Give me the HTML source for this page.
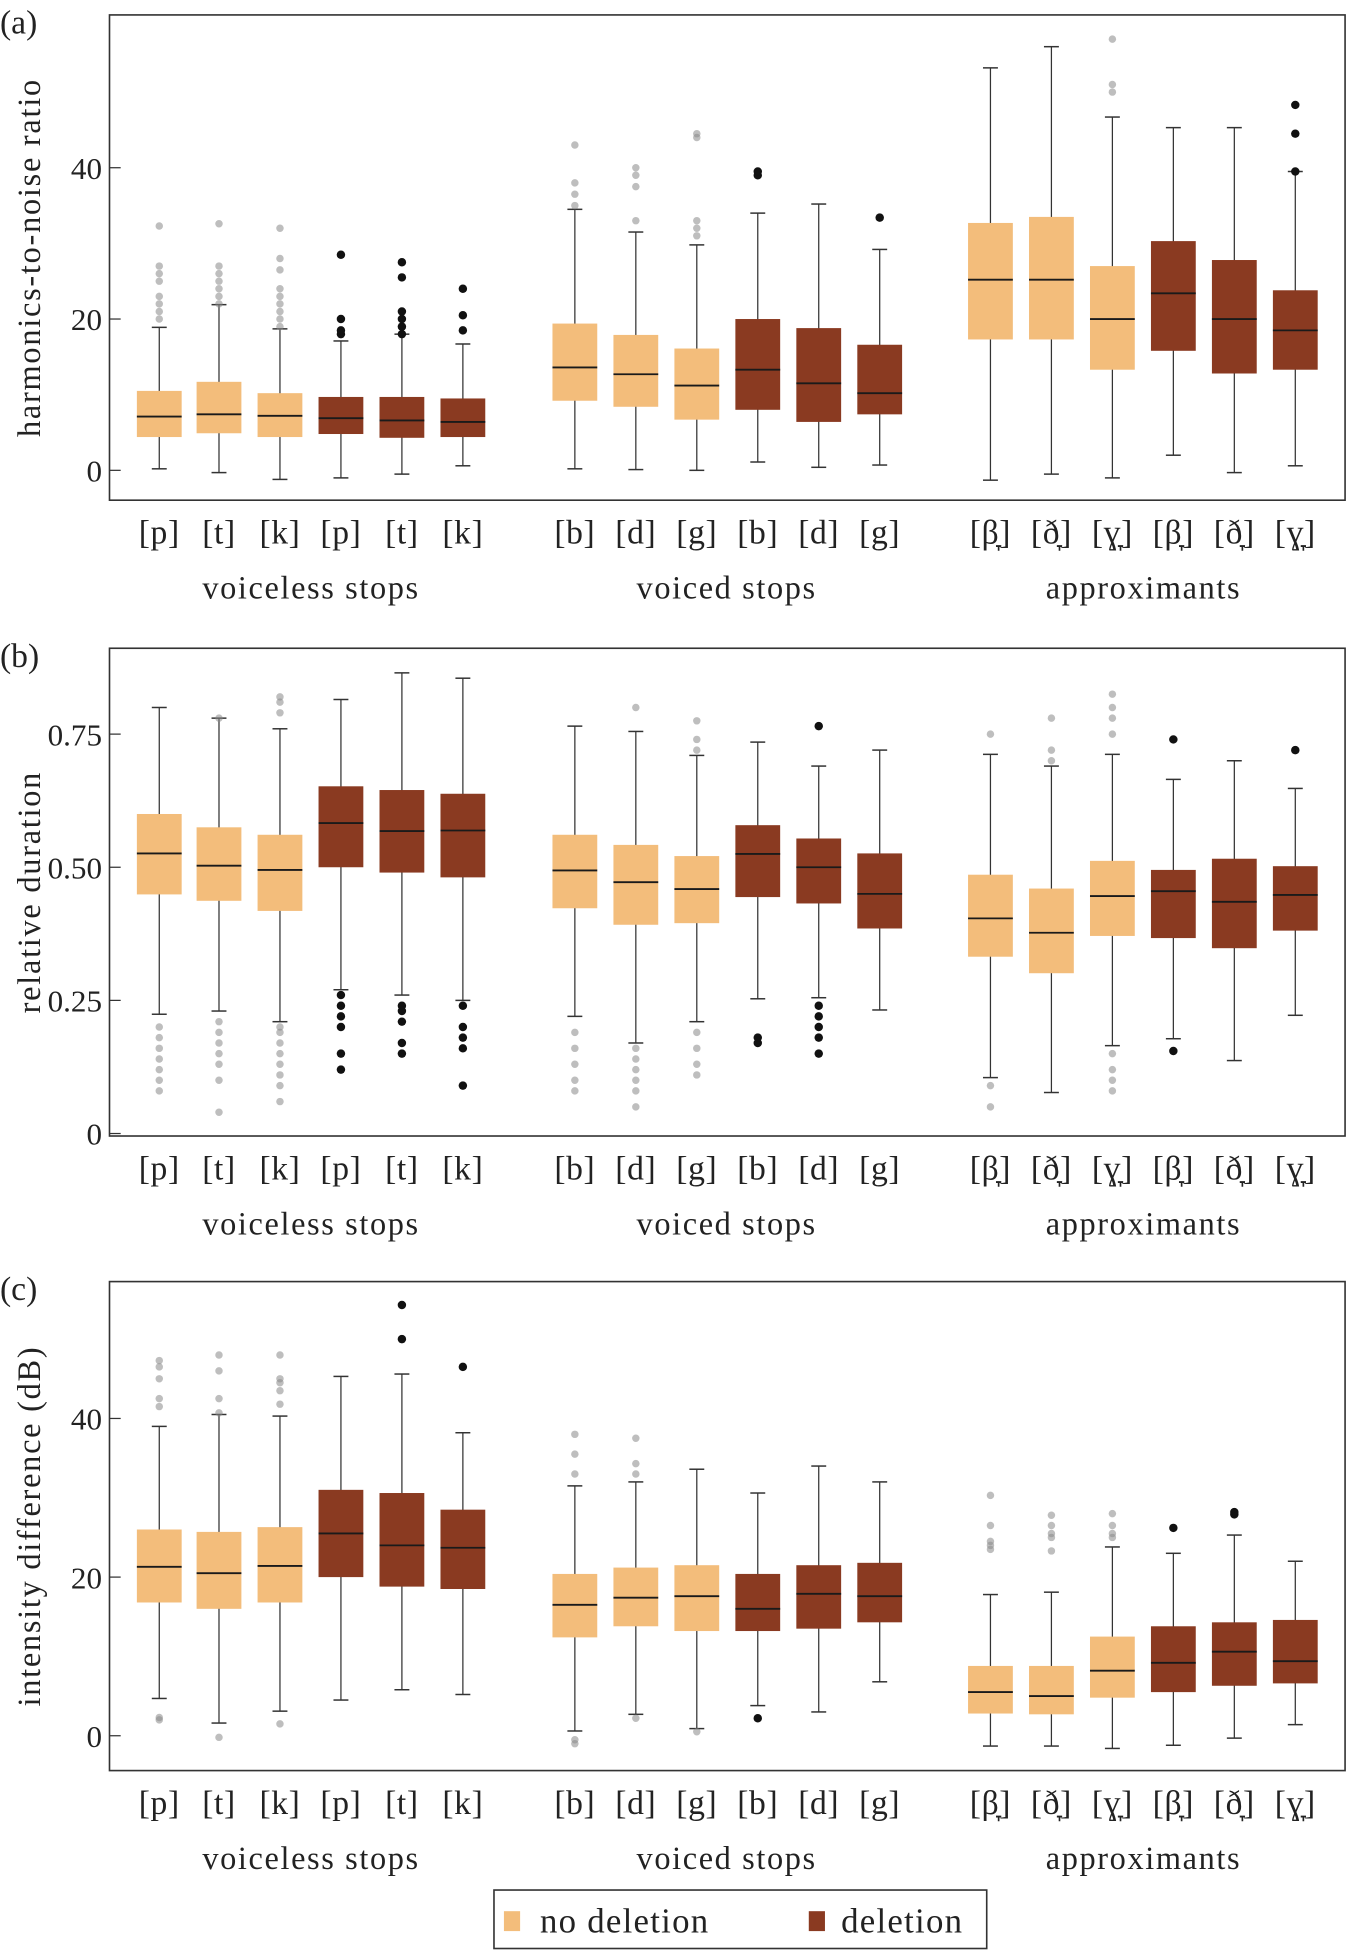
<!DOCTYPE html>
<html><head><meta charset="utf-8">
<style>
html,body{margin:0;padding:0;background:#fff;}
svg{display:block;}
text{font-family:"Liberation Serif",serif;fill:#222;}
</style></head>
<body>
<svg id="chart" width="1360" height="1951" viewBox="0 0 1093 1568" preserveAspectRatio="none" xmlns="http://www.w3.org/2000/svg"></svg>
<script>
const categories = ["[p]","[t]","[k]","[p]","[t]","[k]","[b]","[d]","[g]","[b]","[d]","[g]","[β̞]","[ð̞]","[ɣ̞]","[β̞]","[ð̞]","[ɣ̞]"];
const deletionFlags = [0,0,0,1,1,1,0,0,0,1,1,1,0,0,0,1,1,1];
const groupLabels = ["voiceless stops","voiced stops","approximants"];

// each entry: [whiskerLow, q1, median, q3, whiskerHigh]
const hnrStats = [
 [0.2,4.4,7.1,10.5,18.9],[-0.3,4.9,7.4,11.7,21.9],[-1.2,4.4,7.2,10.2,18.7],
 [-1,4.8,6.9,9.7,17.1],[-0.5,4.3,6.6,9.7,18],[0.6,4.4,6.4,9.5,16.7],
 [0.2,9.2,13.6,19.4,34.5],[0.1,8.4,12.7,17.9,31.5],[0,6.7,11.2,16.1,29.8],
 [1.1,8,13.3,20,34],[0.4,6.4,11.5,18.8,35.2],[0.7,7.4,10.2,16.6,29.2],
 [-1.3,17.3,25.2,32.7,53.2],[-0.5,17.3,25.2,33.5,56],[-1,13.3,20,27,46.7],
 [2,15.8,23.4,30.3,45.3],[-0.3,12.8,20,27.8,45.3],[0.6,13.3,18.5,23.8,39.5]];
const hnrOutliers = [
 [20,21,22,23,25,26,27,32.3],[22,23,24,25,26,27,32.6],[19,20,21,22,23,24,26.5,28,32],
 [18,18.5,20,28.5],[18,19,20,21,25.5,27.5],[18.5,20.5,24],
 [35,36.5,38,43],[33,37.5,39,40],[31,32,33,44,44.5],
 [39,39.5],[],[33.4],
 [],[],[50,51,57],
 [],[],[39.5,44.5,48.3]];
const hnrTicks = [0,20,40];

const durStats = [
 [0.224,0.449,0.526,0.600,0.80],[0.23,0.437,0.503,0.575,0.78],[0.21,0.418,0.495,0.561,0.76],
 [0.27,0.5,0.583,0.652,0.815],[0.26,0.49,0.568,0.645,0.865],[0.25,0.481,0.569,0.638,0.855],
 [0.22,0.423,0.494,0.561,0.765],[0.17,0.392,0.472,0.542,0.755],[0.21,0.395,0.459,0.521,0.71],
 [0.253,0.444,0.525,0.579,0.735],[0.255,0.432,0.5,0.554,0.69],[0.232,0.385,0.45,0.526,0.72],
 [0.105,0.332,0.404,0.486,0.712],[0.077,0.301,0.377,0.46,0.69],[0.165,0.371,0.446,0.512,0.712],
 [0.178,0.367,0.455,0.495,0.665],[0.137,0.348,0.435,0.516,0.70],[0.222,0.381,0.448,0.502,0.648]];
const durOutliers = [
 [0.08,0.1,0.12,0.14,0.16,0.18,0.2],[0.04,0.1,0.13,0.15,0.17,0.19,0.21,0.78],[0.06,0.09,0.11,0.13,0.15,0.17,0.19,0.2,0.79,0.81,0.82],
 [0.12,0.15,0.2,0.22,0.24,0.26],[0.15,0.17,0.21,0.23,0.24],[0.09,0.16,0.18,0.2,0.24],
 [0.08,0.1,0.13,0.16,0.19],[0.05,0.08,0.1,0.12,0.14,0.16,0.8],[0.11,0.13,0.16,0.19,0.72,0.74,0.775],
 [0.17,0.18],[0.15,0.18,0.2,0.22,0.24,0.765],[],
 [0.05,0.09,0.75],[0.70,0.72,0.78],[0.08,0.1,0.12,0.15,0.75,0.78,0.8,0.825],
 [0.155,0.74],[],[0.72]];
const durTicks = [0,0.25,0.5,0.75];
const durTickLabels = ["0","0.25","0.50","0.75"];

const intStats = [
 [4.7,16.8,21.3,26,39],[1.6,16,20.5,25.7,40.5],[3.1,16.8,21.4,26.3,40.3],
 [4.5,20,25.5,31,45.3],[5.8,18.8,24,30.6,45.6],[5.2,18.5,23.7,28.5,38.2],
 [0.6,12.4,16.5,20.4,31.5],[2.7,13.8,17.4,21.2,32],[0.9,13.2,17.6,21.5,33.6],
 [3.8,13.2,16,20.4,30.6],[3,13.5,17.9,21.5,34],[6.8,14.3,17.6,21.8,32],
 [-1.3,2.8,5.5,8.8,17.8],[-1.3,2.7,5,8.8,18.1],[-1.6,4.8,8.2,12.5,23.8],
 [-1.2,5.5,9.2,13.8,23],[-0.3,6.3,10.6,14.3,25.3],[1.4,6.6,9.4,14.6,22]];
const intOutliers = [
 [2,2.3,41.5,42.5,45,46.5,47.3],[-0.2,40.7,42.5,46,48],[1.5,41.8,43.5,44.5,45,48],
 [],[50,54.3],[46.5],
 [-1,-0.5,33,35.5,38],[2.2,33,34.3,37.5],[0.5],
 [2.2],[],[],
 [23.5,24,24.5,26.5,30.3],[23.3,25,25.5,26.5,27.8],[25,25.5,26.5,28],
 [26.2],[27.9,28.2],[]];
const intTicks = [0,20,40];

const NS="http://www.w3.org/2000/svg";
const svg=document.getElementById('chart');
function mk(tag,attrs,parent){const e=document.createElementNS(NS,tag);for(const k in attrs)e.setAttribute(k,attrs[k]);(parent||svg).appendChild(e);return e;}
const centers=[128,176,225,274,323,372,462,511,560,609,658,707,796,845,894,943,992,1041];
const groupCenters=[250,584,919];
const LIGHT="#f3bd7b", DARK="#8a3a21";

function panel(cfg){
  const g=mk('g',{});
  
  
  const yOf=v=>cfg.y0-(v-cfg.v0)*cfg.scale;
  const fr=mk('rect',{x:88,y:cfg.top,width:993,height:cfg.bottom-cfg.top,fill:'none',stroke:'#333','stroke-width':1.3},g);
  
  
  const pl=mk('text',{x:0,y:cfg.top+15,'font-size':27},g);pl.textContent=cfg.letter;
  
  
  cfg.ticks.forEach((t,i)=>{
    const y=yOf(t);
    const tl=mk('line',{x1:88,x2:97,y1:y,y2:y,stroke:'#333','stroke-width':1},g);
    
    
    const tx=mk('text',{x:82,y:y+9,'font-size':25,'text-anchor':'end'},g);
    tx.textContent=cfg.tickLabels?cfg.tickLabels[i]:String(t);
    
    
  });
  const yt=mk('text',{x:0,y:0,'font-size':26,'letter-spacing':1.4,'text-anchor':'middle',transform:`translate(32,${(cfg.top+cfg.bottom)/2}) rotate(-90)`},g);
  yt.textContent=cfg.title;
  
  
  cfg.stats.forEach((s,i)=>{
    const cx=centers[i], hw=18, fill=deletionFlags[i]?DARK:LIGHT;
    const bg=mk('g',{},g);
    
    
    mk('line',{x1:cx,x2:cx,y1:yOf(s[0]),y2:yOf(s[4]),stroke:'#333','stroke-width':1},bg);
    mk('line',{x1:cx-6,x2:cx+6,y1:yOf(s[0]),y2:yOf(s[0]),stroke:'#333','stroke-width':1.2},bg);
    mk('line',{x1:cx-6,x2:cx+6,y1:yOf(s[4]),y2:yOf(s[4]),stroke:'#333','stroke-width':1.2},bg);
    mk('rect',{x:cx-hw,y:yOf(s[3]),width:hw*2,height:yOf(s[1])-yOf(s[3]),fill:fill},bg);
    mk('line',{x1:cx-hw,x2:cx+hw,y1:yOf(s[2]),y2:yOf(s[2]),stroke:'#1a1a1a','stroke-width':1.5},bg);
    cfg.outliers[i].forEach(v=>{
      const c=mk('circle',{cx:cx,cy:yOf(v),r:deletionFlags[i]?3.4:3,fill:deletionFlags[i]?'#111':'#888','fill-opacity':deletionFlags[i]?1:0.55},bg);
      
      
    });
    const cl=mk('text',{x:cx,y:cfg.bottom+35,'font-size':27,'letter-spacing':0.5,'text-anchor':'middle'},g);
    cl.textContent=categories[i];
    
    
  });
  groupLabels.forEach((lab,i)=>{
    const t=mk('text',{x:groupCenters[i],y:cfg.bottom+79,'font-size':26,'letter-spacing':1.3,'text-anchor':'middle'},g);
    t.textContent=lab;
    
    
  });
}
panel({name:'panel-a-hnr',letter:'(a)',top:12,bottom:402,y0:378,v0:0,scale:6.08,ticks:hnrTicks,title:'harmonics-to-noise ratio',stats:hnrStats,outliers:hnrOutliers});
panel({name:'panel-b-duration',letter:'(b)',top:521,bottom:913,y0:911,v0:0,scale:428,ticks:durTicks,tickLabels:durTickLabels,title:'relative duration',stats:durStats,outliers:durOutliers});
panel({name:'panel-c-intensity',letter:'(c)',top:1030,bottom:1423,y0:1395,v0:0,scale:6.375,ticks:intTicks,title:'intensity difference (dB)',stats:intStats,outliers:intOutliers});

const lg=mk('g',{});


mk('rect',{x:397,y:1519,width:396,height:47,fill:'#fff',stroke:'#333','stroke-width':1.3},lg);
const e1=mk('g',{},lg);


mk('rect',{x:405,y:1536,width:13,height:16,fill:LIGHT},e1);
const t1=mk('text',{x:434,y:1553,'font-size':28,'letter-spacing':1},e1);t1.textContent='no deletion';
const e2=mk('g',{},lg);


mk('rect',{x:650,y:1536,width:13,height:16,fill:DARK},e2);
const t2=mk('text',{x:676,y:1553,'font-size':28,'letter-spacing':1},e2);t2.textContent='deletion';
</script>
</body></html>
